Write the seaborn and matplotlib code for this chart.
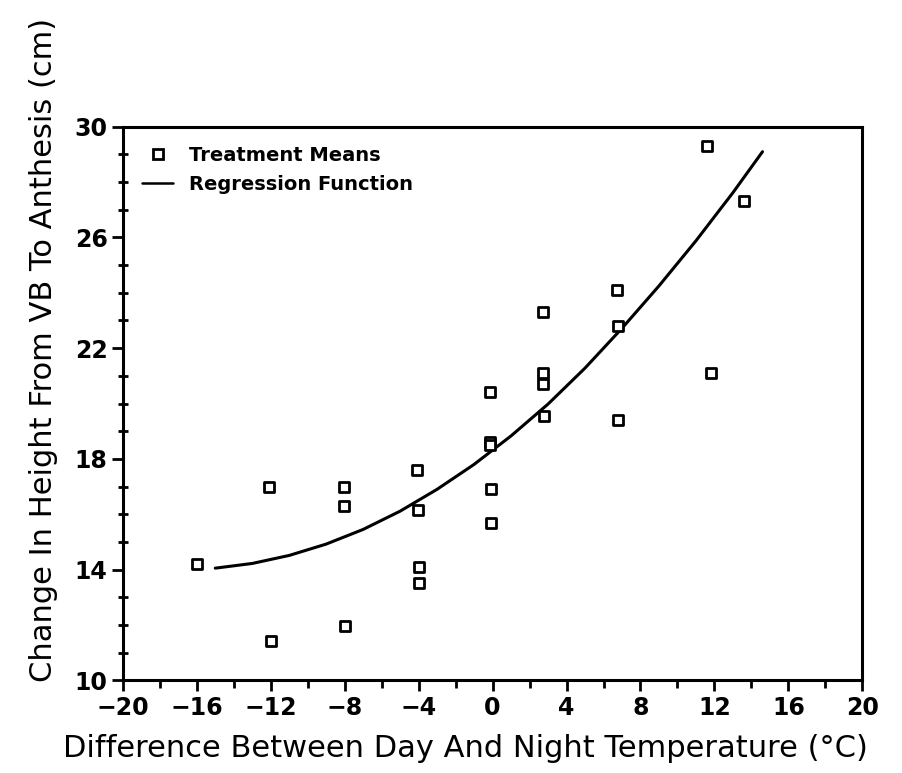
import matplotlib
matplotlib.use("Agg")
import matplotlib.pyplot as plt
import seaborn as sns
import pandas as pd
from matplotlib.ticker import FixedLocator
from matplotlib.lines import Line2D

# Treatment means
temp_diff = [-16.0, -12.1, -12.0, -8.05, -8.05, -8.0, -4.1, -4.05, -4.0, -4.0,
             -0.15, -0.15, -0.1, -0.1, -0.15, 2.75, 2.75, 2.75, 2.8,
             6.75, 6.8, 6.8, 11.6, 11.8, 13.6]
height_change = [14.2, 17.0, 11.4, 17.0, 16.3, 11.95, 17.6, 16.15, 14.1, 13.5,
                 18.6, 18.5, 16.9, 15.7, 20.4, 23.3, 21.1, 20.7, 19.55,
                 24.1, 22.8, 19.4, 29.3, 21.1, 27.3]

# Regression curve
curve_x = [-15, -13, -11, -9, -7, -5, -3, -1, 1, 3, 5, 7, 9, 11, 13, 14.6]
curve_y = [14.05, 14.22, 14.51, 14.92, 15.45, 16.11, 16.90, 17.80, 18.83,
           19.98, 21.28, 22.72, 24.25, 25.88, 27.62, 29.1]

x_ticks = [-20, -16, -12, -8, -4, 0, 4, 8, 12, 16, 20]
y_ticks = [10, 14, 18, 22, 26, 30]

points = pd.DataFrame({"x": temp_diff, "y": height_change})
curve = pd.DataFrame({"x": curve_x, "y": curve_y})

sns.set_style("ticks")
plt.rcParams["font.family"] = ["DejaVu Sans"]
plt.rcParams["text.color"] = "black"
plt.rcParams["axes.labelcolor"] = "black"
plt.rcParams["xtick.color"] = "black"
plt.rcParams["ytick.color"] = "black"
plt.rcParams["axes.edgecolor"] = "black"

fig = plt.figure(figsize=(9.03, 7.73), dpi=100)
ax = fig.add_axes([0.136, 0.12, 0.819, 0.716])

sns.lineplot(data=curve, x="x", y="y", ax=ax, color="black", linewidth=2.2,
             sort=False, estimator=None)
sns.scatterplot(data=points, x="x", y="y", ax=ax, marker="s", s=60,
                facecolor="white", edgecolor="black", linewidth=2.0, zorder=3)

ax.set_xlim(-20, 20)
ax.set_ylim(10, 30)
ax.set_xticks(x_ticks)
ax.set_yticks(y_ticks)
ax.xaxis.set_minor_locator(FixedLocator(range(-18, 20, 4)))
ax.yaxis.set_minor_locator(FixedLocator([v for v in range(11, 30) if (v - 10) % 4]))
ax.set_xticklabels([str(v).replace("-", "\u2212") for v in x_ticks],
                   fontweight="bold")
ax.set_yticklabels([str(v) for v in y_ticks], fontweight="bold")
ax.tick_params(which="major", direction="out", length=8, width=2,
               labelsize=17, pad=3)
ax.tick_params(axis="y", which="minor", direction="inout", length=7, width=2)
ax.tick_params(axis="x", which="minor", direction="out", length=6, width=2)

for sp in ax.spines.values():
    sp.set_linewidth(2.2)

ax.set_xlabel("Difference Between Day And Night Temperature (°C)", fontsize=22)
ax.set_ylabel("Change In Height From VB To Anthesis (cm)", fontsize=22)
ax.xaxis.set_label_coords(0.463, -0.097)
ax.yaxis.set_label_coords(-0.088, 0.597)

handles = [
    Line2D([], [], marker="s", linestyle="none", markersize=7,
           markerfacecolor="white", markeredgecolor="black", markeredgewidth=2),
    Line2D([], [], color="black", linewidth=1.8),
]
ax.legend(handles, ["Treatment Means", "Regression Function"],
          loc="upper left", frameon=False, handlelength=1.6,
          prop={"weight": "bold", "size": 14}, borderaxespad=0.6)

fig.savefig("out.png", dpi=100)
